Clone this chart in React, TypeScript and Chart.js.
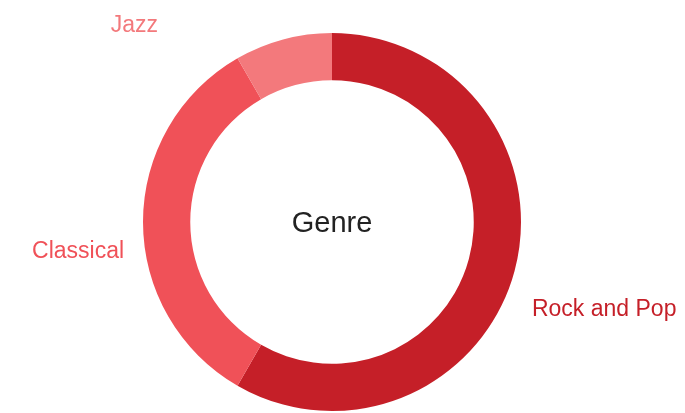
import React, { useEffect, useRef } from "react";
import { Chart, registerables } from "chart.js";

Chart.register(...registerables);

const genres = ["Rock and Pop", "Classical", "Jazz"];
const shares = [7, 4, 1];
const colors = ["#c51f28", "#f05158", "#f3797c"];
const centerTitle = "Genre";

// label placement relative to the doughnut centre, in units of the outer radius
const labelLayout = [
  { fx: 1.058, fy: 0.496, align: "left" as CanvasTextAlign },
  { fx: -1.1, fy: 0.192, align: "right" as CanvasTextAlign },
  { fx: -0.92, fy: -1.005, align: "right" as CanvasTextAlign },
];

const labelPlugin = {
  id: "outLabels",
  afterDraw(chart: any) {
    const meta = chart.getDatasetMeta(0);
    if (!meta || !meta.data.length) return;
    const arc = meta.data[0];
    const cx = arc.x;
    const cy = arc.y;
    const R = arc.outerRadius;
    const ctx = chart.ctx;
    ctx.save();
    ctx.textBaseline = "alphabetic";
    ctx.font = '29px "Liberation Sans", Arial, sans-serif';
    ctx.fillStyle = "#222222";
    ctx.textAlign = "center";
    ctx.fillText(centerTitle, cx, cy + 10);
    ctx.font = '23px "Liberation Sans", Arial, sans-serif';
    genres.forEach((g, i) => {
      const l = labelLayout[i];
      ctx.fillStyle = colors[i];
      ctx.textAlign = l.align;
      ctx.fillText(g, cx + l.fx * R, cy + l.fy * R);
    });
    ctx.restore();
  },
};

export default function App() {
  const ref = useRef<HTMLCanvasElement>(null);
  useEffect(() => {
    if (!ref.current) return;
    const chart = new Chart(ref.current, {
      type: "doughnut",
      data: {
        labels: genres,
        datasets: [
          {
            data: shares,
            backgroundColor: colors,
            borderWidth: 0,
          },
        ],
      },
      options: {
        animation: false,
        responsive: true,
        maintainAspectRatio: false,
        cutout: "75%",
        layout: { padding: { top: 33, bottom: 2, left: 100, right: 121 } },
        plugins: {
          legend: { display: false },
          tooltip: { enabled: false },
        },
      },
      plugins: [labelPlugin],
    });
    return () => chart.destroy();
  }, []);
  return (
    <div style={{ position: "fixed", left: 0, top: 0, width: 685, height: 413 }}>
      <canvas ref={ref} />
    </div>
  );
}
